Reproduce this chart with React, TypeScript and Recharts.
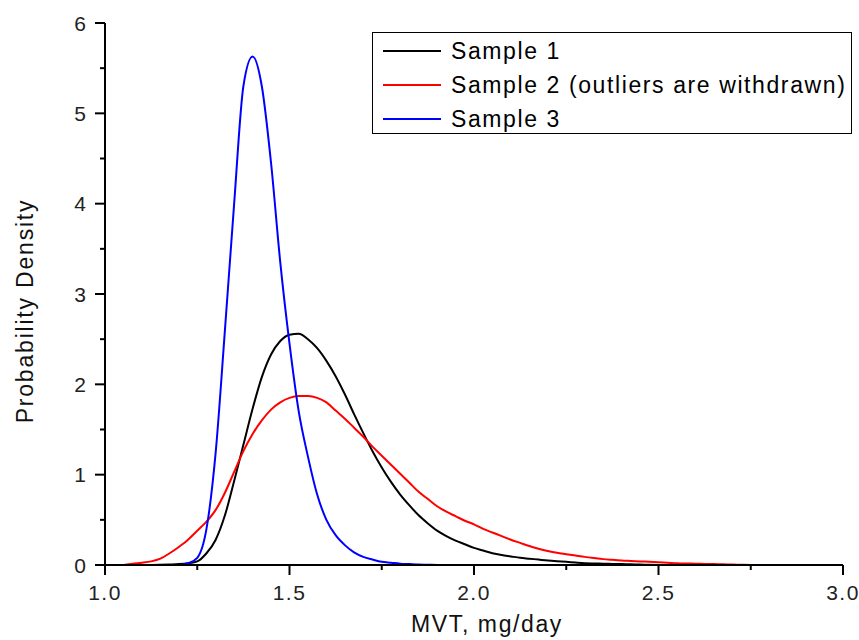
import React from 'react'
import { LineChart, Line, XAxis, YAxis, Legend } from 'recharts'

// MVT, mg/day (step 0.025)
const mvt = [
  1, 1.025, 1.05, 1.075, 1.1, 1.125, 1.15, 1.175, 1.2, 1.225,
  1.25, 1.275, 1.3, 1.325, 1.35, 1.375, 1.4, 1.425, 1.45, 1.475,
  1.5, 1.525, 1.55, 1.575, 1.6, 1.625, 1.65, 1.675, 1.7, 1.725,
  1.75, 1.775, 1.8, 1.825, 1.85, 1.875, 1.9, 1.925, 1.95, 1.975,
  2, 2.025, 2.05, 2.075, 2.1, 2.125, 2.15, 2.175, 2.2, 2.225,
  2.25, 2.275, 2.3, 2.325, 2.35, 2.375, 2.4, 2.425, 2.45, 2.475,
  2.5, 2.525, 2.55, 2.575, 2.6, 2.625, 2.65, 2.675, 2.7, 2.725,
  2.75, 2.775, 2.8, 2.825, 2.85, 2.875, 2.9, 2.925, 2.95, 2.975,
  3,
]

const sample1 = [
  null, null, null, null, 0, 0.001, 0.003, 0.006, 0.01, 0.02,
  0.04, 0.13, 0.28, 0.55, 0.93, 1.33, 1.73, 2.08, 2.33, 2.48,
  2.55, 2.56, 2.5, 2.4, 2.26, 2.09, 1.89, 1.67, 1.46, 1.26,
  1.08, 0.92, 0.78, 0.66, 0.55, 0.46, 0.38, 0.32, 0.27, 0.23,
  0.19, 0.16, 0.13, 0.11, 0.095, 0.08, 0.07, 0.06, 0.05, 0.042,
  0.035, 0.027, 0.02, 0.017, 0.015, 0.012, 0.01, 0.007, 0.005, 0.002,
  0, null, null, null, null, null, null, null, null, null,
  null, null, null, null, null, null, null, null, null, null,
  null,
]

const sample2 = [
  null, null, 0, 0.015, 0.025, 0.04, 0.07, 0.13, 0.2, 0.28,
  0.38, 0.48, 0.61, 0.8, 1.03, 1.26, 1.45, 1.6, 1.72, 1.8,
  1.85, 1.87, 1.87, 1.85, 1.8, 1.71, 1.62, 1.52, 1.42, 1.31,
  1.21, 1.11, 1.01, 0.91, 0.81, 0.73, 0.65, 0.59, 0.54, 0.49,
  0.45, 0.4, 0.36, 0.32, 0.28, 0.245, 0.21, 0.18, 0.155, 0.135,
  0.12, 0.105, 0.09, 0.077, 0.065, 0.057, 0.05, 0.045, 0.04, 0.035,
  0.03, 0.025, 0.02, 0.017, 0.015, 0.012, 0.01, 0.007, 0.005, 0.002,
  0, 0, 0, 0, 0, 0, 0, 0, 0, 0,
  0,
]

const sample3 = [
  null, null, null, null, null, null, null, 0, 0, 0.02,
  0.08, 0.4, 1.25, 2.6, 4.0, 5.3, 5.63, 5.3, 4.45, 3.35,
  2.45, 1.7, 1.2, 0.78, 0.5, 0.33, 0.22, 0.14, 0.09, 0.06,
  0.035, 0.025, 0.015, 0.01, 0.005, 0.003, 0, 0, 0, 0,
  0, 0, 0, 0, 0, 0, 0, 0, 0, 0,
  0, 0, 0, 0, 0, 0, 0, 0, 0, 0,
  0, 0, 0, 0, 0, 0, 0, 0, 0, 0,
  0, 0, 0, 0, 0, 0, 0, 0, 0, 0,
  0,
]

const xTicks = [1, 1.25, 1.5, 1.75, 2, 2.25, 2.5, 2.75, 3]
const yTicks = [0, 0.5, 1, 1.5, 2, 2.5, 3, 3.5, 4, 4.5, 5, 5.5, 6]

const seriesNames = ['Sample 1', 'Sample 2 (outliers are withdrawn)', 'Sample 3']
const seriesColors = ['#000000', '#ff0000', '#0000ff']

const data = mvt.map((x, i) => ({ x, s1: sample1[i], s2: sample2[i], s3: sample3[i] }))

const FONT = '"Liberation Sans", Arial, sans-serif'
const TICK_MAJOR = 10
const TICK_MINOR = 5

const isMajor = (v: number, step: number) => Math.abs(v / step - Math.round(v / step)) < 1e-6

const XTick = (props: any) => {
  const { x, y, payload } = props
  const v = payload.value as number
  const axisY = y - TICK_MAJOR
  const major = isMajor(v, 0.5)
  return (
    <g>
      <line x1={x} x2={x} y1={axisY} y2={axisY + (major ? TICK_MAJOR : TICK_MINOR)} stroke="#000" strokeWidth={2} />
      {major && (
        <text x={x} y={axisY + 35} textAnchor="middle" fontFamily={FONT} fontSize={21} letterSpacing={1.5} fill="#222">
          {v.toFixed(1)}
        </text>
      )}
    </g>
  )
}

const YTick = (props: any) => {
  const { x, y, payload } = props
  const v = payload.value as number
  const axisX = x + TICK_MAJOR
  const major = isMajor(v, 1)
  return (
    <g>
      <line x1={axisX - (major ? TICK_MAJOR : TICK_MINOR)} x2={axisX} y1={y} y2={y} stroke="#000" strokeWidth={2} />
      {major && (
        <text x={axisX - 19} y={y} dy={7.5} textAnchor="end" fontFamily={FONT} fontSize={21} fill="#222">
          {v}
        </text>
      )}
    </g>
  )
}

const LegendBox = (props: any) => {
  const { payload } = props
  return (
    <div
      style={{
        width: 480,
        height: 102,
        boxSizing: 'border-box',
        border: '1px solid #000',
        background: '#fff',
        paddingTop: 1,
        fontFamily: FONT,
        fontSize: 23,
        letterSpacing: 1.6,
        color: '#000',
      }}
    >
      {(payload || []).map((entry: any) => (
        <div key={entry.value} style={{ display: 'flex', alignItems: 'center', height: 34 }}>
          <svg width={58} height={4} style={{ marginLeft: 10 }}>
            <line x1={0} x2={58} y1={2} y2={2} stroke={entry.color} strokeWidth={2} />
          </svg>
          <span style={{ marginLeft: 10, whiteSpace: 'nowrap' }}>{entry.value}</span>
        </div>
      ))}
    </div>
  )
}

export default function App() {
  return (
    <div style={{ position: 'absolute', left: 0, top: 0, width: 859, height: 640, background: '#fff' }}>
      <LineChart width={859} height={640} data={data} margin={{ top: 23, right: 16, bottom: 35, left: 0 }}>
        <XAxis
          dataKey="x"
          type="number"
          domain={[1, 3]}
          ticks={xTicks}
          interval={0}
          height={40}
          tickSize={TICK_MAJOR}
          tickMargin={0}
          tickLine={false}
          tick={<XTick />}
          axisLine={{ stroke: '#000', strokeWidth: 2 }}
          label={{
            content: () => (
              <text x={487} y={632} textAnchor="middle" fontFamily={FONT} fontSize={23} letterSpacing={1.6} fill="#111">
                MVT, mg/day
              </text>
            ),
          }}
        />
        <YAxis
          type="number"
          domain={[0, 6]}
          ticks={yTicks}
          interval={0}
          width={105}
          tickSize={TICK_MAJOR}
          tickMargin={0}
          tickLine={false}
          tick={<YTick />}
          axisLine={{ stroke: '#000', strokeWidth: 2 }}
          label={{
            content: () => (
              <text
                x={33}
                y={311}
                transform="rotate(-90 33 311)"
                textAnchor="middle"
                fontFamily={FONT}
                fontSize={23}
                letterSpacing={1.8}
                fill="#111"
              >
                Probability Density
              </text>
            ),
          }}
        />
        <Legend
          layout="vertical"
          align="center"
          verticalAlign="middle"
          wrapperStyle={{ left: 372, top: 32, width: 480 }}
          content={<LegendBox />}
        />
        {['s1', 's2', 's3'].map((key, i) => (
          <Line
            key={key}
            dataKey={key}
            name={seriesNames[i]}
            stroke={seriesColors[i]}
            strokeWidth={2}
            type="monotone"
            dot={false}
            activeDot={false}
            connectNulls={false}
            isAnimationActive={false}
          />
        ))}
      </LineChart>
    </div>
  )
}
